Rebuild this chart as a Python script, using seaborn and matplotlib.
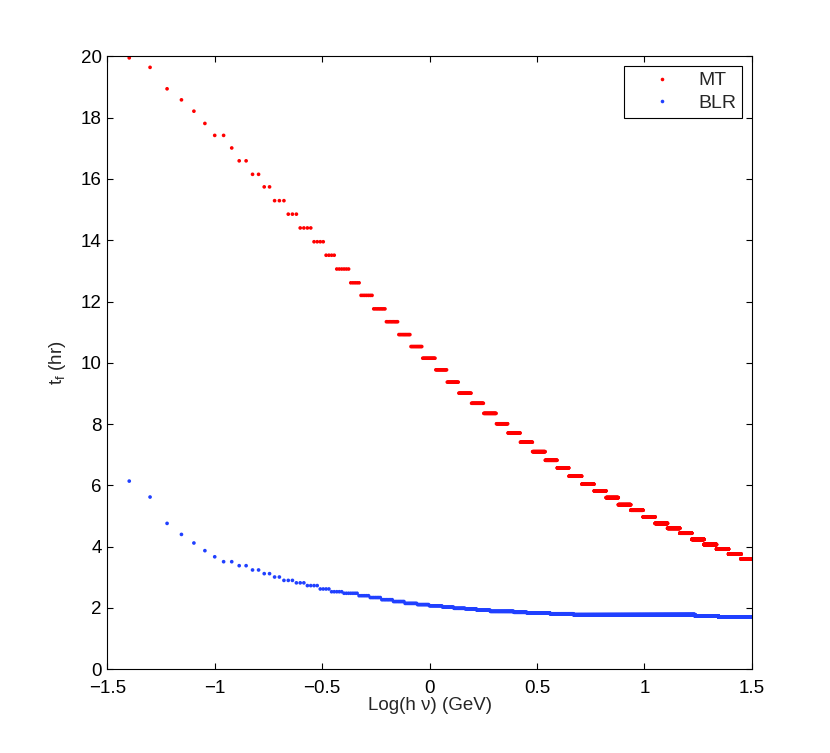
import numpy as np
import pandas as pd
import matplotlib
matplotlib.use('Agg')
import matplotlib.pyplot as plt
from matplotlib.lines import Line2D
import seaborn as sns

# energy grid used for the points (GeV), x axis is log10 of it
e_min, e_max, e_step = 0.04, 31.62, 0.01

# MT: log10(E) where each plateau of t_f starts, and t_f (hr) on it
mt_start = [-1.401, -1.304, -1.225, -1.158, -1.100, -1.049, -1.003, -0.924,
            -0.889, -0.827, -0.773, -0.724, -0.661, -0.605, -0.541, -0.485,
            -0.432, -0.376, -0.319, -0.260, -0.201, -0.148, -0.091, -0.032,
            0.026, 0.080, 0.136, 0.195, 0.251, 0.310, 0.365, 0.423,
            0.480, 0.538, 0.594, 0.649, 0.709, 0.766, 0.822, 0.879,
            0.937, 0.994, 1.050, 1.108, 1.165, 1.221, 1.278, 1.336,
            1.392, 1.450]
mt_tf = [19.95, 19.64, 18.94, 18.58, 18.21, 17.81, 17.42, 17.01,
         16.59, 16.15, 15.74, 15.29, 14.85, 14.40, 13.95, 13.51,
         13.06, 12.61, 12.20, 11.76, 11.34, 10.92, 10.53, 10.15,
         9.77, 9.37, 9.01, 8.68, 8.35, 8.01, 7.71, 7.41,
         7.10, 6.82, 6.57, 6.30, 6.04, 5.82, 5.60, 5.37,
         5.19, 4.97, 4.76, 4.60, 4.44, 4.24, 4.07, 3.92,
         3.76, 3.60]

# BLR
blr_start = [-1.401, -1.304, -1.225, -1.158, -1.100, -1.049, -1.003, -0.962,
             -0.889, -0.827, -0.773, -0.724, -0.681, -0.623, -0.572, -0.512,
             -0.459, -0.401, -0.334, -0.277, -0.2225, -0.168, -0.114, -0.056,
             -0.0005, 0.057, 0.111, 0.165, 0.220, 0.282, 0.391, 0.4525,
             0.561, 0.670, 1.236, 1.345, 1.461]
blr_tf = [6.14, 5.62, 4.76, 4.40, 4.12, 3.87, 3.67, 3.51,
          3.38, 3.24, 3.12, 3.01, 2.90, 2.82, 2.73, 2.62,
          2.53, 2.48, 2.40, 2.34, 2.27, 2.21, 2.15, 2.11,
          2.07, 2.03, 1.99, 1.97, 1.93, 1.89, 1.86, 1.84,
          1.81, 1.78, 1.74, 1.71, 1.70]

series_names = ['MT', 'BLR']
colors = {'MT': '#ff0000', 'BLR': '#2040ff'}

loge = np.log10(np.arange(e_min, e_max + e_step / 2, e_step))


def plateaus(start, tf, name):
    idx = np.searchsorted(start, loge, side='right') - 1
    ok = idx >= 0
    return pd.DataFrame({'logE': loge[ok], 'tf': np.asarray(tf)[idx[ok]],
                         'series': name})


df = pd.concat([plateaus(mt_start, mt_tf, 'MT'),
                plateaus(blr_start, blr_tf, 'BLR')], ignore_index=True)

sns.set_style('ticks')
plt.rcParams['font.family'] = ['Liberation Sans', 'DejaVu Sans']
plt.rcParams['mathtext.fontset'] = 'custom'
plt.rcParams['mathtext.rm'] = 'Liberation Sans'
plt.rcParams['mathtext.it'] = 'Liberation Sans'

fs = 13.5

fig = plt.figure(figsize=(8.3, 7.53), dpi=100)
ax = fig.add_axes([0.1293, 0.1112, 0.7764, 0.814])

sns.scatterplot(data=df, x='logE', y='tf', hue='series', palette=colors,
                hue_order=series_names, s=7, linewidth=0, ax=ax, legend=False)

ax.set_xlim(-1.5, 1.5)
ax.set_ylim(0, 20)
ax.set_xticks(np.arange(-1.5, 1.51, 0.5))
ax.set_xticklabels(['\u22121.5', '\u22121', '\u22120.5', '0', '0.5', '1', '1.5'])
ax.set_yticks(range(0, 21, 2))
ax.tick_params(direction='in', top=True, right=True, length=4, width=0.8,
               labelsize=fs, colors='black')
ax.tick_params(axis='x', pad=8)
ax.tick_params(axis='y', pad=4)
for sp in ax.spines.values():
    sp.set_visible(True)
    sp.set_linewidth(0.8)
    sp.set_color('black')

ax.set_xlabel('Log(h \u03bd) (GeV)', fontsize=fs, labelpad=0)
ax.set_ylabel('$\\mathregular{t_f}$ (hr)', fontsize=fs, labelpad=9)

handles = [Line2D([], [], ls='', marker='o', ms=2.6, mew=0, color=colors[n])
           for n in series_names]
leg = ax.legend(handles, series_names, loc='upper right', fontsize=14,
                frameon=True, fancybox=False, framealpha=1, edgecolor='black',
                handlelength=3.3, handletextpad=0.2, borderpad=0.3,
                labelspacing=0.25, borderaxespad=0.5)
leg.get_frame().set_linewidth(0.8)

fig.savefig('out.png', dpi=100)
